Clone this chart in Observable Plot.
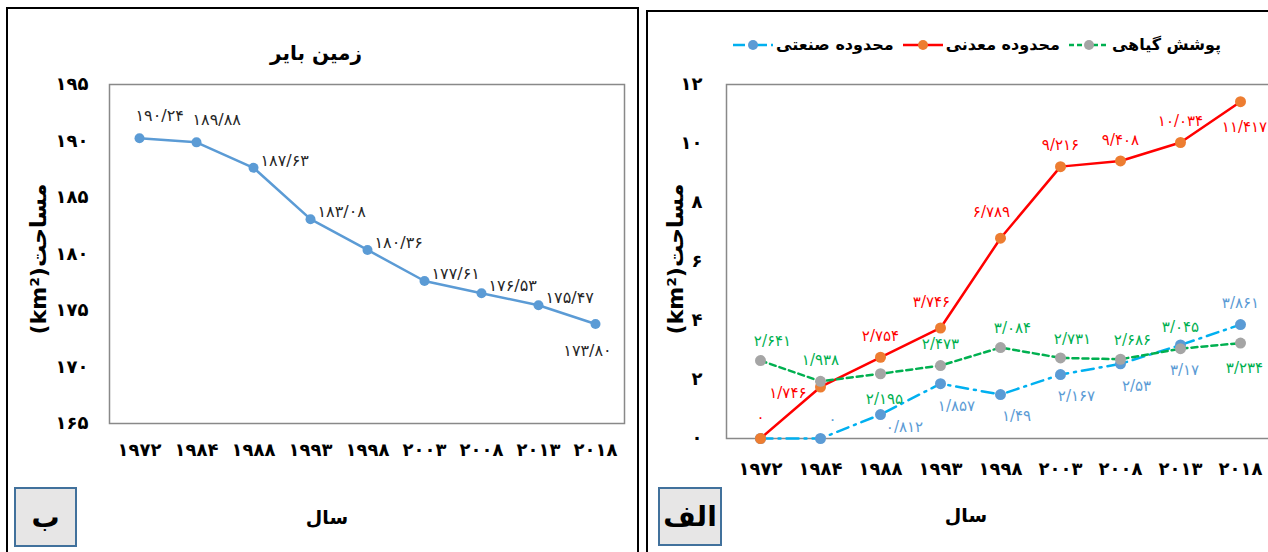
<!DOCTYPE html>
<html><head><meta charset="utf-8">
<script src="https://cdn.jsdelivr.net/npm/d3@7"></script>
<script src="https://cdn.jsdelivr.net/npm/@observablehq/plot@0.6"></script>
<style>
body{margin:0;width:1268px;height:552px;overflow:hidden;position:relative;background:#fff;font-family:"DejaVu Sans",sans-serif;color:#000}
.abs{position:absolute}
.abs svg{max-width:none !important;height:552px !important}
.box{position:absolute;border:2px solid #000;box-sizing:border-box}
.tag{position:absolute;background:#e7e6e6;border:2px solid #41719c;box-sizing:border-box;font-weight:bold;font-size:28px;display:flex;align-items:center;justify-content:center}
.xt{position:absolute;font-weight:bold;font-size:19px;transform:translate(-50%,-50%);white-space:nowrap}
.yl{position:absolute;width:220px;text-align:center;transform:translate(-50%,-50%) rotate(-90deg);white-space:nowrap;font-weight:bold;font-size:22px;direction:ltr}
.legend{position:absolute;display:flex;direction:rtl;align-items:center;gap:8px;font-weight:bold;font-size:16px;white-space:nowrap}
.legend .it{display:flex;direction:rtl;align-items:center;gap:2px}
</style>
</head><body>
<div class="box" style="left:6px;top:7px;width:633px;height:570px"></div>
<div class="box" style="left:646px;top:10px;width:640px;height:570px"></div>
<div id="leftplot" class="abs" style="left:0;top:0;width:640px;height:552px"></div>
<div id="rightplot" class="abs" style="left:640px;top:0;width:640px;height:552px"></div>
<div class="xt" id="title" style="left:316px;top:53px;font-size:20px"></div>
<div class="xt" id="xl1" style="left:327px;top:517px"></div>
<div class="xt" id="xl2" style="left:966px;top:515px"></div>
<div class="yl" id="yl1" style="left:38px;top:259px"></div>
<div class="yl" id="yl2" style="left:675px;top:259px"></div>
<div class="tag" id="tag1" style="left:14px;top:487px;width:63px;height:60px"></div>
<div class="tag" id="tag2" style="left:658px;top:487px;width:64px;height:59px"></div>
<div class="legend" id="legend" style="right:47px;top:35px"></div>
<script>
// ---- data ----
const years = [1972, 1984, 1988, 1993, 1998, 2003, 2008, 2013, 2018];
const barrenLand = [190.24, 189.88, 187.63, 183.08, 180.36, 177.61, 176.53, 175.47, 173.80];
const industrial = [0, 0, 0.812, 1.857, 1.49, 2.167, 2.53, 3.17, 3.861];
const mining = [0, 1.746, 2.754, 3.746, 6.789, 9.216, 9.408, 10.034, 11.417];
const vegetation = [2.641, 1.938, 2.195, 2.473, 3.084, 2.731, 2.686, 3.045, 3.234];
const leftTicks = [165, 170, 175, 180, 185, 190, 195];
const rightTicks = [0, 2, 4, 6, 8, 10, 12];
const titleLeft = "زمین بایر";
const xTitle = "سال";
const yTitle = "(km²)مساحت";
const seriesNames = ["پوشش گیاهی", "محدوده معدنی", "محدوده صنعتی"];
const panelTags = ["ب", "الف"];

// ---- label placement (style) ----
const barrenPlace = ["NE","NE","E","E","E","E","E","E","S"];
const miningPlace = ["N","W","N","NW","NW","N","N","N","S"];
const vegPlace = ["NE","N","S","N","NE","NE","NE","N","S"];
const indPlace = [null,"NE","E","SE","SE","SE","SE","S","N"];

const faDigits = "۰۱۲۳۴۵۶۷۸۹";
const toFa = s => String(s).replace(/[0-9]/g, d => faDigits[d]).replace(".", "/");

const leftOff = {NE:{dx:-4,dy:-22,a:"start"}, E:{dx:7,dy:-7,a:"start"}, S:{dx:-8,dy:27,a:"middle"}};
const rightOff = {N:{dx:0,dy:-21,a:"middle"}, S:{dx:4,dy:25,a:"middle"}, NE:{dx:12,dy:-19,a:"middle"},
  SE:{dx:16,dy:22,a:"middle"}, E:{dx:24,dy:13,a:"middle"}, W:{dx:-14,dy:6,a:"end"}, NW:{dx:-9,dy:-26,a:"middle"}};

function rows(vals, place, fmt) {
  return years.map((y, i) => ({year: y, value: vals[i], pos: place[i], label: fmt(vals[i])}));
}
function labelMarks(data, offs, fill, size) {
  return Object.entries(offs).map(([k, o]) =>
    Plot.text(data.filter(d => d.pos === k), {x: "year", y: "value", text: "label", dx: o.dx, dy: o.dy,
      textAnchor: o.a, fill, fontSize: size}));
}

const leftData = rows(barrenLand, barrenPlace, v => toFa(v.toFixed(2)));
const indData = rows(industrial, indPlace, v => toFa(v));
const minData = rows(mining, miningPlace, v => toFa(v));
const vegData = rows(vegetation, vegPlace, v => toFa(v));

const font = "'DejaVu Sans', sans-serif";

const leftPlot = Plot.plot({
  width: 640, height: 552, marginLeft: 109, marginRight: 16, marginTop: 84, marginBottom: 129,
  style: {fontFamily: font, background: "transparent", overflow: "visible", color: "#000", maxWidth: "none"},
  x: {type: "point", domain: years, padding: 0.5},
  y: {domain: [165, 195]},
  marks: [
    Plot.frame({stroke: "#898989", strokeWidth: 1.5}),
    Plot.axisY({ticks: leftTicks, tickSize: 0, tickPadding: 21, tickFormat: toFa, fontSize: 18, fontWeight: "bold", label: null}),
    Plot.axisX({tickSize: 0, tickPadding: 20, tickFormat: toFa, fontSize: 18, fontWeight: "bold", label: null}),
    Plot.line(leftData, {x: "year", y: "value", stroke: "#5b9bd5", strokeWidth: 2.5}),
    Plot.dot(leftData, {x: "year", y: "value", r: 5, fill: "#5b9bd5"}),
    ...labelMarks(leftData, leftOff, "#262626", 16)
  ]
});
document.getElementById("leftplot").append(leftPlot);

const rightPlot = Plot.plot({
  width: 640, height: 552, marginLeft: 86, marginRight: 7, marginTop: 84, marginBottom: 114,
  style: {fontFamily: font, background: "transparent", overflow: "visible", color: "#000", maxWidth: "none"},
  x: {type: "point", domain: years, padding: 0.5},
  y: {domain: [0, 12]},
  marks: [
    Plot.frame({stroke: "#898989", strokeWidth: 1.5}),
    Plot.axisY({ticks: rightTicks, tickSize: 0, tickPadding: 24, tickFormat: toFa, fontSize: 18, fontWeight: "bold", label: null}),
    Plot.axisX({tickSize: 0, tickPadding: 24, tickFormat: toFa, fontSize: 18, fontWeight: "bold", label: null}),
    Plot.line(indData, {x: "year", y: "value", stroke: "#00b0f0", strokeWidth: 2.5, strokeDasharray: "12,6,2,6"}),
    Plot.dot(indData, {x: "year", y: "value", r: 5.5, fill: "#5b9bd5"}),
    Plot.line(minData, {x: "year", y: "value", stroke: "#ff0000", strokeWidth: 2.5}),
    Plot.dot(minData, {x: "year", y: "value", r: 5.5, fill: "#ed7d31"}),
    Plot.line(vegData, {x: "year", y: "value", stroke: "#00b050", strokeWidth: 2.5, strokeDasharray: "6,4"}),
    Plot.dot(vegData, {x: "year", y: "value", r: 5.5, fill: "#a5a5a5"}),
    ...labelMarks(indData, rightOff, "#5b9bd5", 15),
    ...labelMarks(minData, rightOff, "#ff0000", 15),
    ...labelMarks(vegData, rightOff, "#00b050", 15)
  ]
});
document.getElementById("rightplot").append(rightPlot);

// ---- texts ----
document.getElementById("title").textContent = titleLeft;
document.getElementById("xl1").textContent = xTitle;
document.getElementById("xl2").textContent = xTitle;
document.getElementById("yl1").textContent = yTitle;
document.getElementById("yl2").textContent = yTitle;
document.getElementById("tag1").textContent = panelTags[0];
document.getElementById("tag2").textContent = panelTags[1];

// ---- legend ----
const legendSym = [
  {line: "#00b050", dash: "5,3", dot: "#a5a5a5"},
  {line: "#ff0000", dash: null, dot: "#ed7d31"},
  {line: "#00b0f0", dash: "12,4,2,4", dot: "#5b9bd5"}
];
const legend = document.getElementById("legend");
seriesNames.forEach((name, i) => {
  const s = legendSym[i];
  const it = document.createElement("span");
  it.className = "it";
  const t = document.createElement("span");
  t.textContent = name;
  it.append(t);
  it.insertAdjacentHTML("beforeend",
    `<svg width="42" height="14"><line x1="1" x2="41" y1="7" y2="7" stroke="${s.line}" stroke-width="2.5" ${s.dash ? `stroke-dasharray="${s.dash}"` : ""}/><circle cx="21" cy="7" r="5" fill="${s.dot}"/></svg>`);
  legend.append(it);
});
</script>
</body></html>
